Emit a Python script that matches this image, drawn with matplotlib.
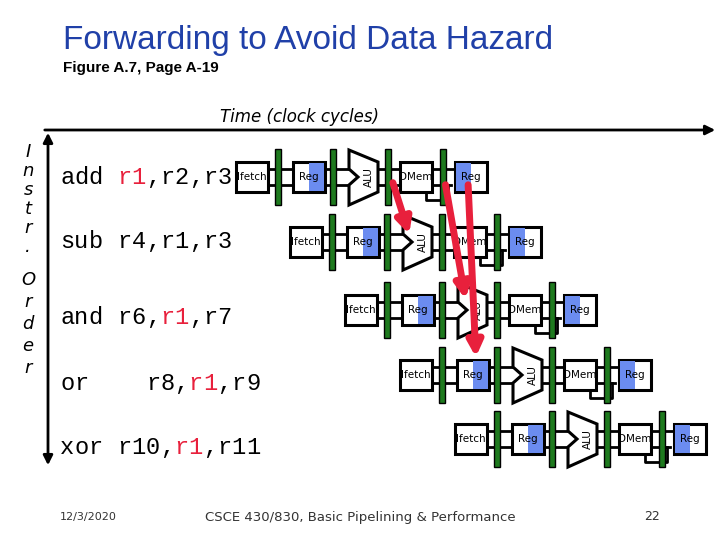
import matplotlib.pyplot as plt
from matplotlib.patches import Rectangle, Polygon, FancyArrowPatch

# instruction rows: (text, indices of chars in red)
instr_text = ["add r1,r2,r3", "sub r4,r1,r3", "and r6,r1,r7", "or    r8,r1,r9", "xor r10,r1,r11"]
instr_red = [[4, 5], [], [7, 8], [9, 10], [8, 9]]
row_y = [177, 242, 310, 375, 439]
text_y = [177, 242, 317, 383, 447]
row_x0 = [236, 290, 345, 400, 455]
# forwarding arrows (start, end) in pixel coords
fwd_arrows = [((392, 180), (410, 237)), ((445, 182), (466, 302)), ((468, 182), (476, 360))]

BLUE = "#6b8cf0"
GREEN = "#1e7a1e"
RED = "#e8203c"

fig = plt.figure(figsize=(7.2, 5.4), dpi=100)
ax = fig.add_axes([0, 0, 1, 1])
ax.set_xlim(0, 720)
ax.set_ylim(540, 0)
ax.axis("off")

ax.text(63, 40, "Forwarding to Avoid Data Hazard", fontsize=24, color="#2040a8",
        fontfamily="Liberation Sans", va="center")
ax.text(63, 68, "Figure A.7, Page A-19", fontsize=11, weight="bold",
        fontfamily="Liberation Sans", va="center")
ax.text(300, 117, "Time (clock cycles)", fontsize=12, style="italic",
        fontfamily="DejaVu Sans", ha="center", va="center")

ax.annotate("", xy=(718, 130), xytext=(42, 130),
            arrowprops=dict(arrowstyle="-|>", lw=2, color="black", mutation_scale=14))
ax.annotate("", xy=(48, 468), xytext=(48, 130),
            arrowprops=dict(arrowstyle="<|-|>", lw=2, color="black", mutation_scale=14))

for i, ch in enumerate("Instr."):
    ax.text(28, 152 + i * 19, ch, fontsize=13, style="italic", ha="center", va="center")
for i, ch in enumerate("Order"):
    ax.text(28, 280 + i * 22, ch, fontsize=13, style="italic", ha="center", va="center")

cw = 14.3
for t, red, y in zip(instr_text, instr_red, text_y):
    for k, ch in enumerate(t):
        ax.text(60 + k * cw, y, ch, fontsize=17, fontfamily="Liberation Mono",
                color=RED if k in red else "black", va="center", ha="left")


def box(x, y, label, blue=None):
    ax.add_patch(Rectangle((x, y - 15), 32, 30, fc="white", ec="black", lw=2.2, zorder=3))
    if blue == "right":
        ax.add_patch(Rectangle((x + 16, y - 14), 15, 28, fc=BLUE, ec="none", zorder=3))
    elif blue == "left":
        ax.add_patch(Rectangle((x + 1, y - 14), 15, 28, fc=BLUE, ec="none", zorder=3))
    ax.text(x + 16, y, label, fontsize=7.5, ha="center", va="center", zorder=4)


for x0, y in zip(row_x0, row_y):
    # wires
    ax.plot([x0 + 30, x0 + 235], [y - 8, y - 8], color="black", lw=2, zorder=1)
    ax.plot([x0 + 30, x0 + 215], [y + 8, y + 8], color="black", lw=2, zorder=1)
    ax.plot([x0 + 190, x0 + 190, x0 + 212, x0 + 212], [y + 8, y + 23, y + 23, y + 8],
            color="black", lw=2, zorder=1)
    box(x0, y, "Ifetch")
    box(x0 + 57, y, "Reg", "right")
    alu = [(x0 + 113, y - 27), (x0 + 142, y - 15), (x0 + 142, y + 15), (x0 + 113, y + 28),
           (x0 + 113, y + 8), (x0 + 122, y), (x0 + 113, y - 8)]
    ax.add_patch(Polygon(alu, closed=True, fc="white", ec="black", lw=2.2, zorder=3))
    ax.text(x0 + 133, y, "ALU", fontsize=7.5, rotation=90, ha="center", va="center", zorder=4)
    box(x0 + 164, y, "DMem")
    box(x0 + 219, y, "Reg", "left")
    for lx in (x0 + 42, x0 + 97, x0 + 152, x0 + 207):
        ax.add_patch(Rectangle((lx - 3, y - 28), 6, 56, fc=GREEN, ec="black", lw=1, zorder=3))

for (s, e) in fwd_arrows:
    ax.add_patch(FancyArrowPatch(s, e, arrowstyle="-|>", mutation_scale=22, lw=5,
                                 color=RED, zorder=6))

ax.text(60, 517, "12/3/2020", fontsize=8, color="#333333", va="center")
ax.text(360, 517, "CSCE 430/830, Basic Pipelining & Performance", fontsize=9.5,
        color="#333333", ha="center", va="center")
ax.text(652, 517, "22", fontsize=9, color="#333333", ha="center", va="center")

fig.savefig("out.png", dpi=100)
